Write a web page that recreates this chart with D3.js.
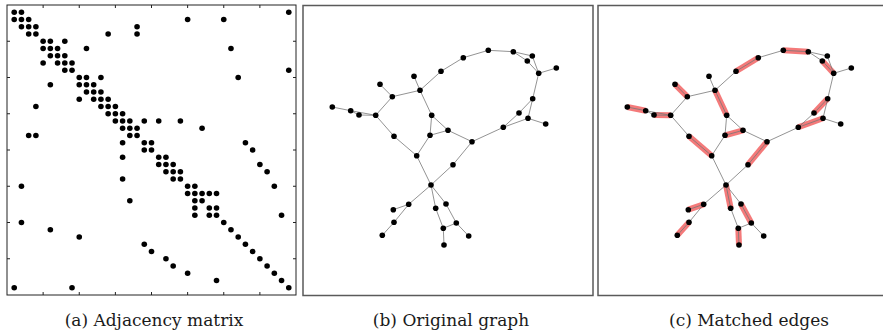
<!DOCTYPE html>
<html>
<head>
<meta charset="utf-8">
<script src="https://cdn.jsdelivr.net/npm/d3@7"></script>
<style>
  body { margin: 0; background: #fff; }
  svg { display: block; }
</style>
</head>
<body>
<div id="chart"></div>
<script>
// nodes in matrix order (1..39), layout coordinates of the drawn graph
var nodeX = [138, 117, 128.7, 145, 229.3, 235.7, 224.3, 210.3, 185.3, 225,
             229.7, 216, 200.3, 169, 150, 128, 113.7, 127, 105.7, 91,
             132.7, 140.3, 153.3, 143, 89.3, 72.7, 91, 56, 47.7, 111,
             253.3, 242.7, 90.3, 79.3, 141, 165.7, 77, 29.3, 160.3];
var nodeY = [65.8, 84.8, 109.8, 124.8, 50.5, 67.8, 55.5, 46.2, 44.8, 112.8,
             93.2, 107.5, 121.8, 136.2, 159.2, 179.5, 150.2, 129.8, 198.8, 216.8,
             202.8, 222.8, 217.5, 198.5, 91.2, 109.8, 130.8, 109.5, 105.2, 70.8,
             62.5, 118.5, 204.2, 229.8, 239.5, 230.5, 78.8, 101.5, 52.2];

// edges, by matrix index
var edges = [[1,2],[1,39],[2,3],[2,25],[2,30],[3,4],[3,18],[4,14],[4,18],[5,6],
             [5,8],[6,7],[6,11],[6,31],[7,8],[8,9],[9,39],[10,11],[10,13],[10,32],
             [11,12],[12,13],[13,14],[14,15],[15,16],[16,17],[16,19],[16,21],[16,24],[17,18],
             [17,27],[19,20],[19,33],[20,34],[21,22],[22,23],[22,35],[23,24],[23,36],[25,26],
             [25,37],[26,27],[26,28],[26,29],[28,29],[29,38]];

// matched edges (subset of edges)
var matched = [[38,29],[28,26],[37,25],[2,3],[1,39],[9,8],[7,6],[11,12],[13,10],
               [18,4],[27,17],[14,15],[16,21],[24,23],[22,35],[33,19],[34,20]];

var matrixTicks = [5, 10, 15, 20, 25, 30, 35];

var captions = ["(a) Adjacency matrix", "(b) Original graph", "(c) Matched edges"];

var W = 883, H = 333;
var n = nodeX.length;

var svg = d3.select('#chart').append('svg')
    .attr('width', W)
    .attr('height', H);

// ---- (a) adjacency matrix (A + I) ----
var cells = d3.range(1, n + 1).map(i => [i, i]);
edges.forEach(e => { cells.push([e[0], e[1]]); cells.push([e[1], e[0]]); });

var mx = d3.scaleLinear().domain([0, n + 1]).range([7, 296]);
var my = d3.scaleLinear().domain([0, n + 1]).range([5, 295]);

var mat = svg.append('g');

mat.append('rect')
    .attr('x', mx(0)).attr('y', my(0))
    .attr('width', mx(n + 1) - mx(0))
    .attr('height', my(n + 1) - my(0))
    .attr('fill', 'none')
    .attr('stroke', '#222')
    .attr('stroke-width', 1);

// inward ticks on all four sides
var tl = 3;
mat.append('g').selectAll('line').data(matrixTicks).join('line')
    .attr('x1', d => mx(d)).attr('x2', d => mx(d))
    .attr('y1', my(0)).attr('y2', my(0) + tl);
mat.append('g').selectAll('line').data(matrixTicks).join('line')
    .attr('x1', d => mx(d)).attr('x2', d => mx(d))
    .attr('y1', my(n + 1)).attr('y2', my(n + 1) - tl);
mat.append('g').selectAll('line').data(matrixTicks).join('line')
    .attr('y1', d => my(d)).attr('y2', d => my(d))
    .attr('x1', mx(0)).attr('x2', mx(0) + tl);
mat.append('g').selectAll('line').data(matrixTicks).join('line')
    .attr('y1', d => my(d)).attr('y2', d => my(d))
    .attr('x1', mx(n + 1)).attr('x2', mx(n + 1) - tl);
mat.selectAll('line').attr('stroke', '#222').attr('stroke-width', 1);

mat.append('g').selectAll('circle').data(cells).join('circle')
    .attr('cx', d => mx(d[1]))
    .attr('cy', d => my(d[0]))
    .attr('r', 2.8)
    .attr('fill', '#000');

// ---- (b) and (c) graph panels ----
var drawGraph = (x0, withMatching) => {
    var gx = d3.scaleLinear().domain([0, 290]).range([x0, x0 + 290]);
    var gy = d3.scaleLinear().domain([0, 290]).range([5.5, 295.5]);
    var g = svg.append('g');

    g.append('rect')
        .attr('x', gx(0)).attr('y', gy(0))
        .attr('width', gx(290) - gx(0))
        .attr('height', gy(290) - gy(0))
        .attr('fill', 'none')
        .attr('stroke', '#5a5a5a')
        .attr('stroke-width', 1.5);

    if (withMatching) {
        g.append('g').selectAll('line').data(matched).join('line')
            .attr('x1', d => gx(nodeX[d[0] - 1])).attr('y1', d => gy(nodeY[d[0] - 1]))
            .attr('x2', d => gx(nodeX[d[1] - 1])).attr('y2', d => gy(nodeY[d[1] - 1]))
            .attr('stroke', '#f47a7a')
            .attr('stroke-width', 6);
    }

    g.append('g').selectAll('line').data(edges).join('line')
        .attr('x1', d => gx(nodeX[d[0] - 1])).attr('y1', d => gy(nodeY[d[0] - 1]))
        .attr('x2', d => gx(nodeX[d[1] - 1])).attr('y2', d => gy(nodeY[d[1] - 1]))
        .attr('stroke', '#777')
        .attr('stroke-width', 0.8);

    g.append('g').selectAll('circle').data(d3.range(n)).join('circle')
        .attr('cx', i => gx(nodeX[i]))
        .attr('cy', i => gy(nodeY[i]))
        .attr('r', 2.8)
        .attr('fill', '#000');
};

drawGraph(303, false);
drawGraph(598, true);

// captions
var capX = [154, 451, 749];
svg.append('g').selectAll('text').data(captions).join('text')
    .attr('x', (d, i) => capX[i])
    .attr('y', 326)
    .attr('text-anchor', 'middle')
    .attr('font-family', '"DejaVu Serif", serif')
    .attr('font-size', 17)
    .attr('fill', '#1a1a1a')
    .text(d => d);
</script>
</body>
</html>
